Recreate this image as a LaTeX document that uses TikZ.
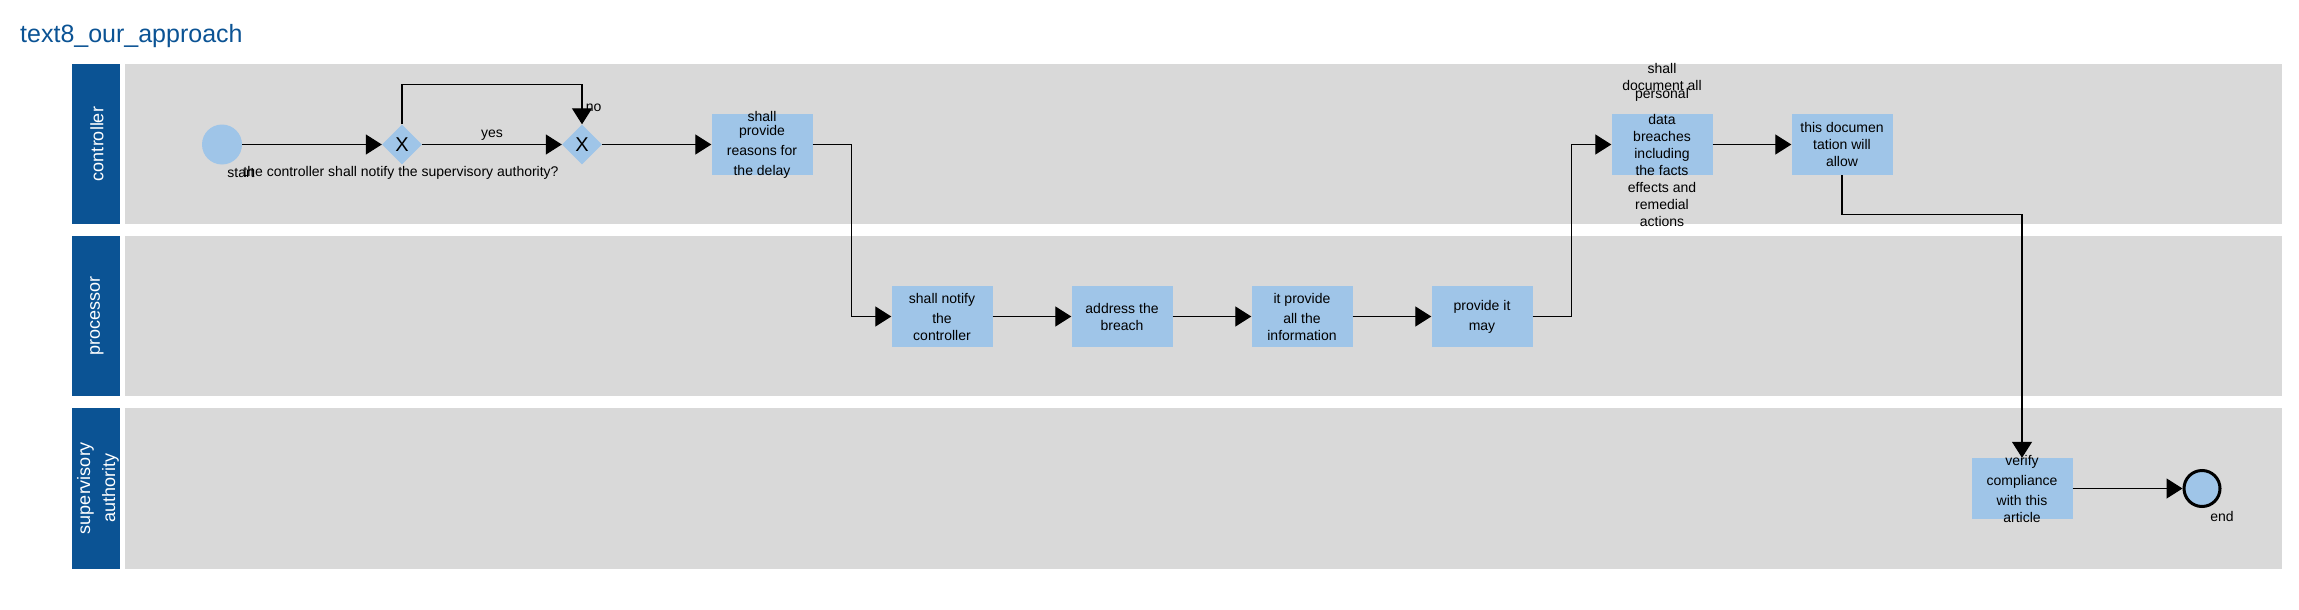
\documentclass[tikz,border=0pt]{standalone}
\usepackage{fontspec}
\setmainfont{Liberation Sans}
\usetikzlibrary{shapes.geometric,arrows.meta}
\definecolor{laneblue}{HTML}{0B5394}
\definecolor{lanegray}{HTML}{D9D9D9}
\definecolor{taskblue}{HTML}{9FC5E8}
\tikzset{
  task/.style={rectangle, fill=taskblue, minimum width=101pt, minimum height=61pt, inner sep=0pt},
  tasktext/.style={align=center, inner sep=0pt, font=\fontsize{14}{17}\selectfont},
  gateway/.style={diamond, fill=taskblue, minimum width=40pt, minimum height=40pt, inner sep=0pt, font=\fontsize{20}{24}\selectfont},
  event/.style={circle, fill=taskblue, minimum size=40pt, inner sep=0pt},
  endevent/.style={circle, fill=taskblue, draw=black, line width=3pt, minimum size=36pt, inner sep=0pt},
  small/.style={font=\fontsize{14}{17}\selectfont},
  lanename/.style={rotate=90, align=center, text=white, font=\fontsize{18}{25}\selectfont},
  flow/.style={draw=black, line width=1.2pt, -{Triangle[length=16pt,width=20pt]}}
}
\begin{document}
\begin{tikzpicture}[x=1pt, y=-1pt]
  \useasboundingbox (0,0) rectangle (2299,610);
  \node[name=title, anchor=base west, inner sep=0pt, text=laneblue, font=\fontsize{25}{30}\selectfont] at (20,43) {text8\_our\_approach};
  \foreach \ya/\yb in {64/224, 236/396, 408/569} {
    \fill[laneblue] (72,\ya) rectangle (120,\yb);
    \fill[lanegray] (125,\ya) rectangle (2282,\yb);
  }
  \node[name=lane1, lanename] at (97,144) {controller};
  \node[name=lane2, lanename] at (97,316) {processor};
  \node[name=lane3, lanename] at (98,488) {supervisory\\authority};

  \node[name=start, event] at (222,144.5) {};
  \node[name=g1, gateway] at (402,144.5) {X};
  \node[name=g2, gateway] at (582,144.5) {X};
  \node[name=t1, task] at (762,144.5) {};
  \node[name=t2, task] at (942,316.5) {};
  \node[name=t3, task] at (1122,316.5) {};
  \node[name=t4, task] at (1302,316.5) {};
  \node[name=t5, task] at (1482,316.5) {};
  \node[name=t6, task] at (1662,144.5) {};
  \node[name=t7, task] at (1842,144.5) {};
  \node[name=t8, task] at (2022,488.5) {};
  \node[name=finish, endevent] at (2202,488.5) {};

  \node[name=t1-text, tasktext] at (t1) {shall\\[-3pt]provide\\[3pt]reasons for\\[3pt]the delay};
  \node[name=t2-text, tasktext] at (t2) {shall notify\\[3pt]the\\controller};
  \node[name=t3-text, tasktext] at (t3) {address the\\breach};
  \node[name=t4-text, tasktext] at (t4) {it provide\\[3pt]all the\\information};
  \node[name=t5-text, tasktext] at (t5) {provide it\\[3pt]may};
  \node[name=t6-text, tasktext] at (t6) {shall\\document all\\[-9pt]personal\\[9pt]data\\breaches\\including\\the facts\\effects and\\remedial\\actions};
  \node[name=t7-text, tasktext] at (t7) {this documen\\tation will\\allow};
  \node[name=t8-text, tasktext] at (t8) {verify\\[3pt]compliance\\[3pt]with this\\article};
  \node[name=start-label, small] at (241,173) {start};
  \node[name=g1-label, small] at (401,173) {the controller shall notify the supervisory authority?};
  \node[name=finish-label, small] at (2222,516) {end};

  \draw[flow] (start) -- (g1);
  \draw[flow] (g1) -- node[name=yes, small, above] {yes} (g2);
  \draw[flow] (g1.north) -- ++(0,-40) -| node[name=no, small, right, pos=0.8] {no} (g2.north);
  \draw[flow] (g2) -- (t1);
  \draw[flow] (t1.east) -- ++(39,0) |- (t2.west);
  \draw[flow] (t2) -- (t3);
  \draw[flow] (t3) -- (t4);
  \draw[flow] (t4) -- (t5);
  \draw[flow] (t5.east) -- ++(39,0) |- (t6.west);
  \draw[flow] (t6) -- (t7);
  \draw[flow] (t7.south) -- ++(0,39) -| (t8.north);
  \draw[flow] (t8) -- (finish);
\end{tikzpicture}
\end{document}
